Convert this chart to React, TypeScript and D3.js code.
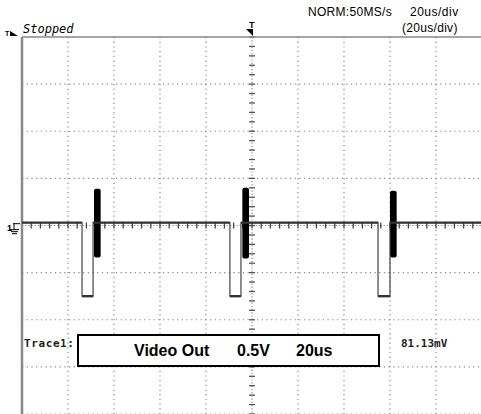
import React, { useEffect, useRef } from "react";
import * as d3 from "d3";

// time in us, voltage in V (0.5V/div, 20us/div)
const timeDomain = [-100, 100];
const voltDomain = [-2, 2];
const xDivs = d3.range(-100, 101, 20);
const yDivs = d3.range(-2, 2.01, 0.5);

// trace: baseline, sync pulses
const traceT = [-100, -73.9, -73.9, -69.1, -69.1, -9.6, -9.6, -4.8, -4.8, 54.8, 54.8, 60, 60, 100];
const traceV = [0.03, 0.03, -0.75, -0.75, 0.03, 0.03, -0.75, -0.75, 0.03, 0.03, -0.75, -0.75, 0.03, 0.03];

// colour bursts (drawn as envelopes)
const burstStart = [-68.7, -4.2, 60.0];
const burstEnd = [-65.8, -1.3, 62.9];
const burstHi = [0.39, 0.4, 0.37];
const burstLo = [-0.34, -0.35, -0.34];

const App = () => {
  const ref = useRef<SVGSVGElement>(null);

  useEffect(() => {
    const W = 481, H = 414;
    const left = 22, top = 37;
    const svg = d3.select(ref.current).attr("width", W).attr("height", H);
    svg.selectAll("*").remove();

    const x = d3.scaleLinear().domain(timeDomain).range([left, left + 460]);
    const y = d3.scaleLinear().domain(voltDomain).range([H, top]);
    const g = svg.append("g");

    // dotted grid
    g.selectAll(".vg").data(xDivs.filter((d) => d !== 0 && d !== -100)).enter().append("line")
      .attr("x1", (d) => x(d)).attr("x2", (d) => x(d)).attr("y1", top).attr("y2", H)
      .attr("stroke", "#888").attr("stroke-width", 1.2).attr("stroke-dasharray", "1.2,3.5");
    g.selectAll(".hg").data(yDivs.filter((d) => d !== 0 && d !== 2)).enter().append("line")
      .attr("x1", left).attr("x2", W).attr("y1", (d) => y(d)).attr("y2", (d) => y(d))
      .attr("stroke", "#888").attr("stroke-width", 1.2).attr("stroke-dasharray", "1.2,3.5");

    // center axes with minor ticks
    g.append("line").attr("x1", x(0)).attr("x2", x(0)).attr("y1", top).attr("y2", H)
      .attr("stroke", "#888").attr("stroke-width", 1.2).attr("stroke-dasharray", "1.2,2");
    g.append("line").attr("x1", left).attr("x2", W).attr("y1", y(0)).attr("y2", y(0))
      .attr("stroke", "#888").attr("stroke-width", 1.2).attr("stroke-dasharray", "1.2,2");
    g.selectAll(".vt").data(d3.range(-2, 2.01, 0.1)).enter().append("line")
      .attr("x1", x(0) - 3).attr("x2", x(0) + 3).attr("y1", (d) => y(d)).attr("y2", (d) => y(d))
      .attr("stroke", "#555").attr("stroke-width", 1.3);
    g.selectAll(".ht").data(d3.range(-100, 101, 4)).enter().append("line")
      .attr("x1", (d) => x(d)).attr("x2", (d) => x(d)).attr("y1", y(0) - 3).attr("y2", y(0) + 3)
      .attr("stroke", "#444").attr("stroke-width", 1.3);

    // frame
    g.append("line").attr("x1", left).attr("x2", left).attr("y1", top).attr("y2", H)
      .attr("stroke", "#888").attr("stroke-width", 2.5);
    g.append("line").attr("x1", left).attr("x2", W).attr("y1", top).attr("y2", top)
      .attr("stroke", "#888").attr("stroke-width", 1.5);

    // bursts
    burstStart.forEach((s, i) => {
      g.append("rect")
        .attr("x", x(s)).attr("width", x(burstEnd[i]) - x(s))
        .attr("y", y(burstHi[i])).attr("height", y(burstLo[i]) - y(burstHi[i]))
        .attr("rx", 2).attr("fill", "#000");
    });

    // trace: thin edges, noisy (thick) flat parts
    const line = d3.line<number>().x((d) => x(d)).y((_, i) => y(traceV[i]));
    g.append("path").attr("d", line(traceT)).attr("fill", "none")
      .attr("stroke", "#444").attr("stroke-width", 1.2);
    traceT.forEach((t, i) => {
      if (i === 0 || traceV[i] !== traceV[i - 1]) return;
      g.append("line")
        .attr("x1", x(traceT[i - 1])).attr("x2", x(t))
        .attr("y1", y(traceV[i])).attr("y2", y(traceV[i]))
        .attr("stroke", "#333").attr("stroke-width", 2.4);
    });

    // texts
    const mono = "'DejaVu Sans Mono', monospace";
    const sans = "'Liberation Sans', Arial, sans-serif";
    g.append("text").attr("x", 23).attr("y", 33).attr("font-family", mono).attr("font-style", "italic")
      .attr("font-size", 12).attr("fill", "#000").text("Stopped");
    g.append("text").attr("x", 5).attr("y", 36).attr("font-family", sans).attr("font-size", 7)
      .attr("font-weight", "bold").text("T");
    g.append("path").attr("d", "M10,36 L18,36 L10,31 Z").attr("fill", "#000");

    g.append("text").attr("x", 308).attr("y", 16).attr("font-family", sans).attr("font-size", 12)
      .attr("letter-spacing", 0.3).attr("fill", "#000").text("NORM:50MS/s");
    g.append("text").attr("x", 410).attr("y", 16).attr("font-family", sans).attr("font-size", 12)
      .attr("letter-spacing", 0.5).attr("fill", "#000").text("20us/div");
    g.append("text").attr("x", 402).attr("y", 32).attr("font-family", sans).attr("font-size", 12)
      .attr("letter-spacing", 0.3).attr("fill", "#000").text("(20us/div)");

    // trigger position marker
    const cx = x(0);
    g.append("text").attr("x", cx - 3).attr("y", 28).attr("font-family", sans).attr("font-size", 9)
      .attr("font-weight", "bold").text("T");
    g.append("path").attr("d", `M${cx - 6},29 L${cx + 1},29 L${cx + 1},36 Z`).attr("fill", "#000");

    // ground marker
    const gy = y(0.03);
    g.append("text").attr("x", 7).attr("y", gy + 8).attr("font-family", sans).attr("font-size", 9)
      .attr("font-weight", "bold").text("1");
    g.append("path").attr("d", `M13,${gy + 1} L20,${gy + 1} M14,${gy + 1} L14,${gy + 7} M10,${gy + 7} L19,${gy + 7} M11,${gy + 9} L18,${gy + 9} M12,${gy + 11} L17,${gy + 11}`)
      .attr("stroke", "#000").attr("stroke-width", 1);

    // trace label box
    g.append("text").attr("x", 24).attr("y", 347).attr("font-family", mono).attr("font-size", 11)
      .attr("font-weight", "bold").attr("letter-spacing", 0.6).attr("fill", "#222").text("Trace1:");
    g.append("rect").attr("x", 78).attr("y", 335).attr("width", 301).attr("height", 31)
      .attr("fill", "#fff").attr("stroke", "#000").attr("stroke-width", 2);
    g.append("text").attr("x", 134).attr("y", 356).attr("font-family", sans).attr("font-size", 16)
      .attr("font-weight", "bold").text("Video Out");
    g.append("text").attr("x", 237).attr("y", 356).attr("font-family", sans).attr("font-size", 16)
      .attr("font-weight", "bold").text("0.5V");
    g.append("text").attr("x", 296).attr("y", 356).attr("font-family", sans).attr("font-size", 16)
      .attr("font-weight", "bold").text("20us");
    g.append("text").attr("x", 401).attr("y", 347).attr("font-family", mono).attr("font-size", 11)
      .attr("font-weight", "bold").attr("fill", "#222").text("81.13mV");
  }, []);

  return (
    <svg ref={ref} style={{ position: "absolute", left: 0, top: 0, background: "#fff" }} />
  );
};

export default App;
